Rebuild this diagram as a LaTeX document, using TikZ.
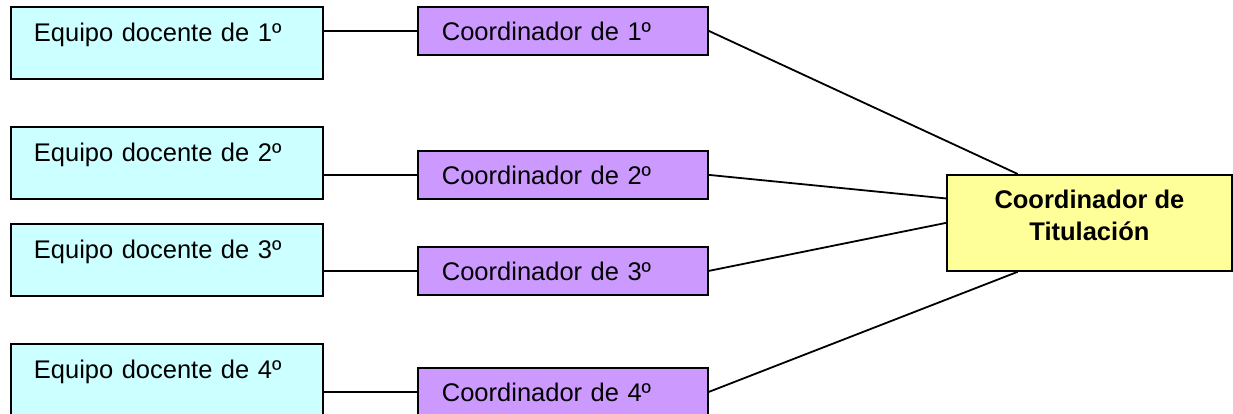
\documentclass[tikz,border=0pt]{standalone}
\usepackage{fontspec}
\setmainfont{Liberation Sans}
\definecolor{teamcyan}{RGB}{204, 255, 255}
\definecolor{coordviolet}{RGB}{204, 153, 255}
\definecolor{headyellow}{RGB}{255, 255, 153}
\usetikzlibrary{positioning, calc}
\newcommand{\diagfont}{\fontsize{25.5}{32}\selectfont}

\begin{document}
\begin{tikzpicture}[x=1pt, y=-1pt, line width=1.8pt,
  every node/.style={font=\diagfont},
  teambox/.style={draw, fill=teamcyan, anchor=north west, inner xsep=23pt, inner ysep=0pt, text width=266pt, align=left, text height=35pt, text depth=37pt},
  coordbox/.style={draw, fill=coordviolet, anchor=north west, inner xsep=24pt, inner ysep=0pt, text width=242pt, align=left, text height=34pt, text depth=14pt},
  headbox/.style={draw, fill=headyellow, anchor=north west, inner xsep=0pt, inner ysep=0pt, minimum width=285pt, align=center, text height=66pt, text depth=30pt, font=\diagfont\bfseries}]
  \useasboundingbox (0,0) rectangle (1233,414);

  % Teaching teams
  \node[teambox] (team1) at (10, 6) {Equipo docente de 1º};
  \node[teambox] (team2) at (10, 126) {Equipo docente de 2º};
  \node[teambox] (team3) at (10, 223) {Equipo docente de 3º};
  \node[teambox] (team4) at (10, 343) {Equipo docente de 4º};

  % Year coordinators
  \node[coordbox] (coord1) at (417, 6) {Coordinador de 1º};
  \node[coordbox] (coord2) at (417, 150) {Coordinador de 2º};
  \node[coordbox] (coord3) at (417, 246) {Coordinador de 3º};
  \node[coordbox] (coord4) at (417, 367) {Coordinador de 4º};

  % Degree coordinator
  \node[headbox] (head) at (946, 174) {Coordinador de\\Titulación};

  % Links
  \draw (team1.east |- coord1.west) -- (coord1.west);
  \draw (team2.east |- coord2.west) -- (coord2.west);
  \draw (team3.east |- coord3.west) -- (coord3.west);
  \draw (team4.east |- coord4.west) -- (coord4.west);
  \draw (coord1.east) -- ($(head.north west)!0.25!(head.north east)$);
  \draw (coord2.east) -- ($(head.north west)!0.25!(head.south west)$);
  \draw (coord3.east) -- (head.west);
  \draw (coord4.east) -- ($(head.south west)!0.25!(head.south east)$);
\end{tikzpicture}
\end{document}
